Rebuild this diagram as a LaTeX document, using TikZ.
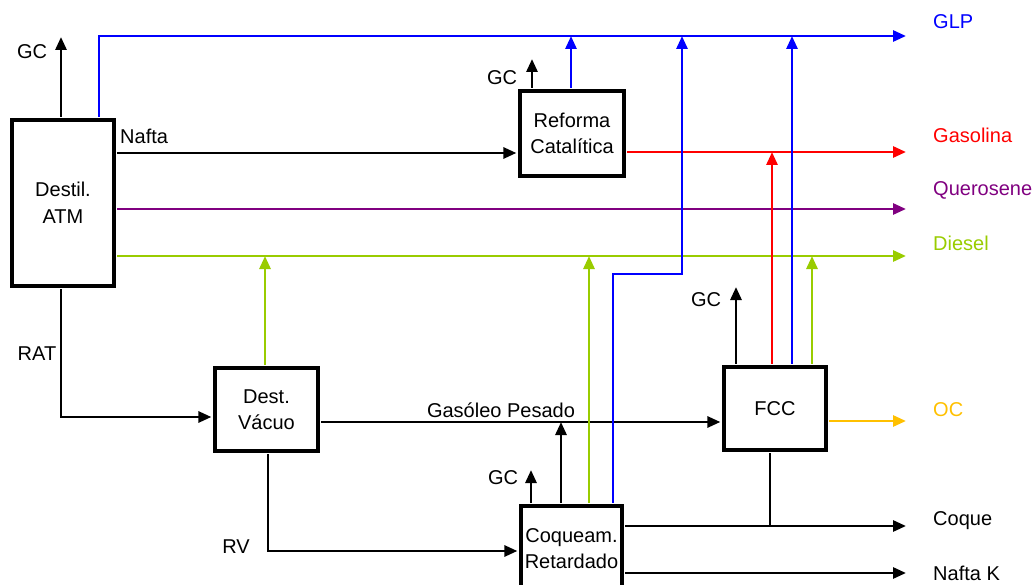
\documentclass[tikz,border=0pt]{standalone}
\usepackage{fontspec}
\setmainfont{Liberation Sans}
\usetikzlibrary{arrows.meta}
\definecolor{cblue}{RGB}{0,0,255}
\definecolor{cred}{RGB}{255,0,0}
\definecolor{cpurple}{RGB}{128,0,128}
\definecolor{cgreen}{RGB}{153,204,0}
\definecolor{cgold}{RGB}{255,192,0}
\begin{document}
\begin{tikzpicture}[x=1pt,y=-1pt,
  every node/.style={font=\fontsize{20}{26.5}\selectfont},
  unit/.style={draw,line width=3.2pt,fill=white,align=center,inner sep=0pt},
  flow/.style={line width=2.8pt,shorten <=1.5pt,-{Triangle[length=13pt,width=11pt]}},
  tobox/.style={shorten >=2pt},
  plain/.style={line width=2.8pt,shorten <=1.5pt},
  lab/.style={anchor=west,inner sep=0pt},
  tag/.style={inner sep=0pt}]
\useasboundingbox (0,0) rectangle (1035,585);
% units
\node[unit,minimum width=102pt,minimum height=166pt] (atm) at (63,203) {Destil.\\ATM};
\node[unit,minimum width=104pt,minimum height=85pt] (ref) at (572,133.5) {Reforma\\Catalítica};
\node[unit,minimum width=103pt,minimum height=83pt] (vac) at (266.5,409.5) {Dest.\\Vácuo};
\node[unit,minimum width=102pt,minimum height=83pt] (fcc) at (775,408.5) {FCC};
\node[unit,minimum width=101pt,minimum height=85pt] (coq) at (571.5,548.5) {Coqueam.\\Retardado};
% product ends
\coordinate (glp) at (906,36);
\coordinate (gas) at (906,152);
\coordinate (quer) at (906,209);
\coordinate (dies) at (906,256);
\coordinate (oc) at (906,421);
\coordinate (coque) at (906,526);
\coordinate (nk) at (906,573);
% tips and columns
\coordinate (gc1) at (61,37);
\coordinate (bl1) at (99,36);
\coordinate (nafta) at (0,153);
\coordinate (rat) at (61,417);
\coordinate (gp) at (0,422);
\coordinate (rv) at (268,551);
\coordinate (d1) at (265,256);
\coordinate (gc2) at (532,59);
\coordinate (bl2) at (571,36);
\coordinate (gc4) at (531,470);
\coordinate (up4) at (561,422);
\coordinate (d2) at (589,256);
\coordinate (bl3s) at (613,0);
\coordinate (bend) at (682,274);
\coordinate (bl3) at (682,36);
\coordinate (cq) at (770,526);
\coordinate (gc3) at (736,287);
\coordinate (r1) at (772,152);
\coordinate (bl4) at (792,36);
\coordinate (d3) at (812,256);
% horizontal streams
\draw[flow,cblue] (atm.north -| bl1) -- (bl1) -- (glp);
\draw[flow,tobox] (atm.east |- nafta) -- (ref.west |- nafta);
\draw[flow,cred] (ref.east |- gas) -- (gas);
\draw[flow,cpurple] (atm.east |- quer) -- (quer);
\draw[flow,cgreen] (atm.east |- dies) -- (dies);
\draw[flow,tobox] (atm.south -| rat) -- (rat) -- (vac.west |- rat);
\draw[flow,tobox] (vac.east |- gp) -- (fcc.west |- gp);
\draw[flow,tobox] (vac.south -| rv) -- (rv) -- (coq.west |- rv);
\draw[flow,cgold] (fcc.east |- oc) -- (oc);
\draw[flow] (coq.east |- coque) -- (coque);
\draw[plain] (fcc.south -| cq) -- (cq);
\draw[flow] (coq.east |- nk) -- (nk);
% vertical streams
\draw[flow] (atm.north -| gc1) -- (gc1);
\draw[flow,cgreen] (vac.north -| d1) -- (d1);
\draw[flow] (ref.north -| gc2) -- (gc2);
\draw[flow,cblue] (ref.north -| bl2) -- (bl2);
\draw[flow] (coq.north -| gc4) -- (gc4);
\draw[flow] (coq.north -| up4) -- (up4);
\draw[flow,cgreen] (coq.north -| d2) -- (d2);
\draw[flow,cblue] (coq.north -| bl3s) |- (bend) -- (bl3);
\draw[flow] (fcc.north -| gc3) -- (gc3);
\draw[flow,cred] (fcc.north -| r1) -- (r1);
\draw[flow,cblue] (fcc.north -| bl4) -- (bl4);
\draw[flow,cgreen] (fcc.north -| d3) -- (d3);
% labels
\node[tag] (tgc1) at (32,52) {GC};
\node[tag] (tgc2) at (502,78) {GC};
\node[tag] (tgc3) at (706,300) {GC};
\node[tag] (tgc4) at (503,478) {GC};
\node[lab] (tnafta) at (120,136) {Nafta};
\node[tag] (trat) at (37,354) {RAT};
\node[tag] (trv) at (236,547) {RV};
\node[tag] (tgp) at (501,410) {Gasóleo Pesado};
\node[lab,text=cblue] (tglp) at (933,22) {GLP};
\node[lab,text=cred] (tgas) at (933,135) {Gasolina};
\node[lab,text=cpurple] (tquer) at (933,190) {Querosene};
\node[lab,text=cgreen] (tdies) at (933,243) {Diesel};
\node[lab,text=cgold] (toc) at (933,410) {OC};
\node[lab] (tcoque) at (933,521) {Coque};
\node[lab] (tnk) at (933,573) {Nafta K};
\end{tikzpicture}
\end{document}
